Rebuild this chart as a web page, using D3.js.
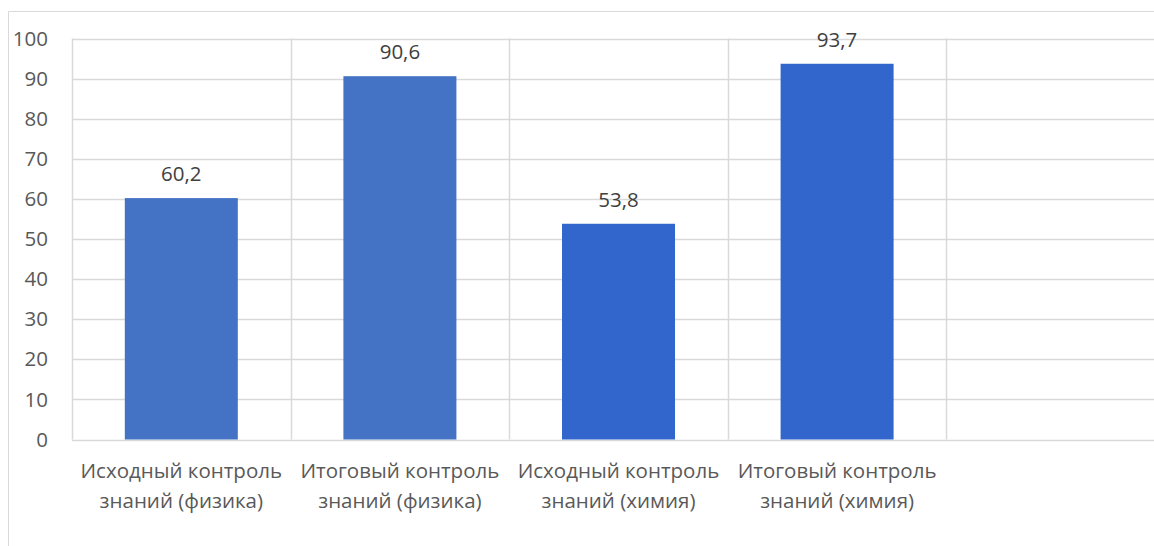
<!DOCTYPE html>
<html><head><meta charset="utf-8">
<script src="https://cdn.jsdelivr.net/npm/d3@7"></script>
<style>body{margin:0;background:#fff}svg{display:block}</style>
</head><body><svg id="c" width="1154" height="546"></svg>
<script>
const categories = [
  ["Исходный контроль", "знаний (физика)"],
  ["Итоговый контроль", "знаний (физика)"],
  ["Исходный контроль", "знаний (химия)"],
  ["Итоговый контроль", "знаний (химия)"],
  ["", ""]
];
const values = [60.2, 90.6, 53.8, 93.7, null];
const valueLabels = ["60,2", "90,6", "53,8", "93,7", ""];
const barColors = ["#4472C4", "#4472C4", "#3366CC", "#3366CC", "#3366CC"];
const yTicks = [0, 10, 20, 30, 40, 50, 60, 70, 80, 90, 100];

(function () {
const svg = d3.select("#c");
const W = 1154, H = 546;
const mLeft = 72, mTop = 38.5, mBottom = 439.5;
const catW = 218.6;
const mRight = mLeft + catW * categories.length;
const font = "'Open Sans', sans-serif";
const fs = 20.5;

// outer chart border
svg.append("path").attr("d", `M8.5,${H} V11.5 H${W}`).attr("fill", "none").attr("stroke", "#D9D9D9").attr("stroke-width", 1);

const x = d3.scaleBand().domain(d3.range(categories.length)).range([mLeft, mRight]).paddingInner(0).paddingOuter(0);
const y = d3.scaleLinear().domain([0, 100]).range([mBottom, mTop]);

// horizontal gridlines
svg.append("g").selectAll("line").data(yTicks).join("line")
  .attr("x1", mLeft).attr("x2", mRight)
  .attr("y1", d => Math.round(y(d)) + 0.5).attr("y2", d => Math.round(y(d)) + 0.5)
  .attr("stroke", "#D9D9D9").attr("stroke-width", 1.5);

// vertical gridlines at category boundaries
const bounds = d3.range(categories.length + 1).map(i => i < categories.length ? x(i) : mRight);
svg.append("g").selectAll("line").data(bounds).join("line")
  .attr("x1", d => Math.round(d) + 0.5).attr("x2", d => Math.round(d) + 0.5)
  .attr("y1", mTop).attr("y2", mBottom)
  .attr("stroke", "#D9D9D9").attr("stroke-width", 1.5);

// y tick labels
svg.append("g").selectAll("text").data(yTicks).join("text")
  .attr("x", 48).attr("y", d => y(d)).attr("dy", "0.35em")
  .attr("text-anchor", "end").attr("font-family", font).attr("font-size", fs)
  .attr("fill", "#595959").text(d => d);

// bars
const bw = 113;
const barData = values.map((v, i) => ({v, i})).filter(d => d.v != null);
svg.append("g").selectAll("rect").data(barData).join("rect")
  .attr("x", d => x(d.i) + x.bandwidth() / 2 - bw / 2)
  .attr("width", bw)
  .attr("y", d => y(d.v)).attr("height", d => y(0) - y(d.v))
  .attr("fill", d => barColors[d.i]);

// data labels
svg.append("g").selectAll("text").data(barData).join("text")
  .attr("x", d => x(d.i) + x.bandwidth() / 2)
  .attr("y", d => y(d.v) - 17)
  .attr("text-anchor", "middle").attr("font-family", font).attr("font-size", fs)
  .attr("fill", "#404040").text(d => valueLabels[d.i]);

// category labels
const cg = svg.append("g").selectAll("text").data(categories.map((c, i) => ({c, i}))).join("text")
  .attr("text-anchor", "middle").attr("font-family", font).attr("font-size", fs)
  .attr("fill", "#595959");
cg.each(function(d) {
  const t = d3.select(this);
  d.c.forEach((line, k) => {
    t.append("tspan").attr("x", x(d.i) + x.bandwidth() / 2).attr("y", 478 + k * 30).text(line);
  });
});
})();
</script></body></html>
